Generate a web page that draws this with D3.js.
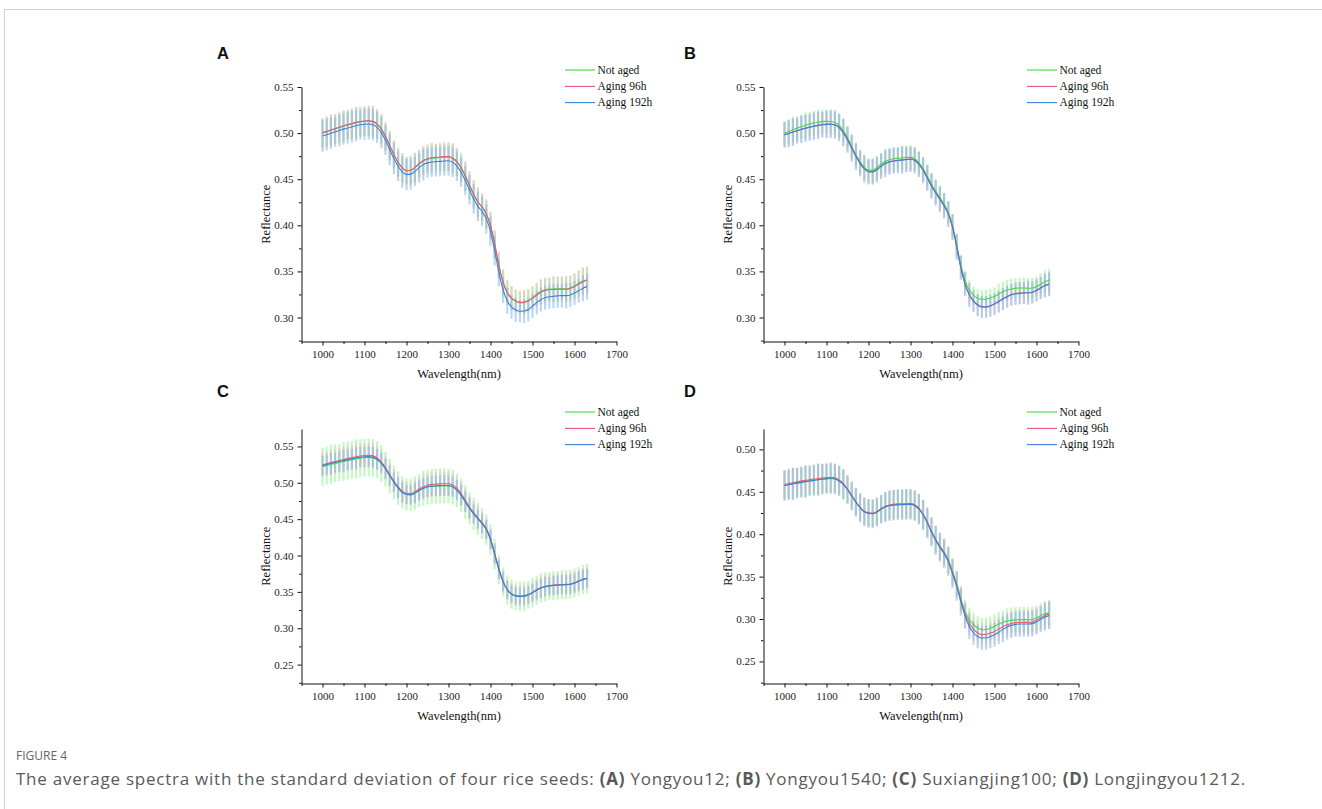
<!DOCTYPE html>
<html>
<head>
<meta charset="utf-8">
<script src="https://cdn.jsdelivr.net/npm/d3@7"></script>
<style>
  body { margin: 0; background: #fff; }
  svg { display: block; }
</style>
</head>
<body>
<svg id="fig" width="1322" height="809"></svg>
<script>
const wavelengths = [1000,1010,1020,1030,1040,1050,1060,1070,1080,1090,1100,1110,1120,1130,1140,1150,1160,1170,1180,1190,
  1200,1210,1220,1230,1240,1250,1260,1270,1280,1290,1300,1310,1320,1330,1340,1350,1360,1370,1380,1390,
  1400,1410,1420,1430,1440,1450,1460,1470,1480,1490,1500,1510,1520,1530,1540,1550,1560,1570,1580,1590,
  1600,1610,1620,1630];

const seriesNames = ["Not aged", "Aging 96h", "Aging 192h"];
const xTicks = [1000, 1100, 1200, 1300, 1400, 1500, 1600, 1700];

// Panel A - Yongyou12
const aNotAged = [.5000,.5015,.5030,.5045,.5060,.5075,.5088,.5100,.5112,.5122,.5128,.5130,.5122,.5095,.5040,.4960,.4860,.4765,.4680,.4620,
  .4592,.4595,.4625,.4665,.4698,.4718,.4728,.4732,.4735,.4740,.4742,.4725,.4685,.4620,.4530,.4430,.4330,.4250,.4195,.4120,
  .3990,.3790,.3560,.3380,.3270,.3210,.3180,.3165,.3168,.3185,.3215,.3250,.3282,.3300,.3308,.3310,.3312,.3312,.3310,.3320,
  .3342,.3370,.3395,.3410];
const aAged96 = [.5003,.5019,.5034,.5049,.5064,.5079,.5092,.5104,.5116,.5126,.5132,.5134,.5127,.5101,.5047,.4967,.4866,.4770,.4684,.4623,
  .4594,.4597,.4628,.4669,.4702,.4722,.4733,.4737,.4740,.4745,.4746,.4730,.4691,.4627,.4537,.4437,.4336,.4255,.4200,.4127,
  .3998,.3798,.3566,.3384,.3272,.3210,.3178,.3162,.3164,.3180,.3209,.3243,.3275,.3293,.3301,.3304,.3306,.3307,.3306,.3315,
  .3336,.3363,.3388,.3404];
const aAged192 = [.4968,.4983,.4998,.5013,.5028,.5043,.5056,.5068,.5080,.5090,.5096,.5098,.5090,.5062,.5005,.4922,.4820,.4724,.4640,.4580,
  .4552,.4555,.4585,.4625,.4658,.4677,.4686,.4690,.4693,.4698,.4700,.4683,.4642,.4576,.4485,.4385,.4285,.4205,.4150,.4070,
  .3935,.3725,.3490,.3300,.3180,.3115,.3082,.3068,.3070,.3088,.3124,.3162,.3196,.3215,.3225,.3230,.3235,.3238,.3238,.3245,
  .3265,.3292,.3318,.3335];
const aNotAgedSd = [.016,.016,.017,.016,.016,.017,.016,.016,.017,.016,.016,.016,.017,.016,.016,.015,.016,.015,.015,.016,
  .015,.015,.016,.015,.015,.015,.016,.015,.015,.015,.015,.016,.015,.015,.016,.015,.015,.016,.015,.015,
  .015,.015,.014,.014,.013,.013,.012,.012,.013,.012,.012,.013,.013,.013,.013,.014,.013,.013,.014,.013,
  .014,.014,.015,.014];
const aAged96Sd = [.016,.017,.017,.016,.017,.017,.016,.017,.017,.016,.016,.017,.017,.016,.016,.016,.016,.015,.016,.016,
  .015,.016,.016,.015,.016,.016,.016,.015,.016,.016,.016,.016,.015,.016,.016,.015,.016,.016,.015,.016,
  .015,.015,.015,.014,.014,.013,.013,.013,.013,.013,.013,.013,.014,.014,.013,.014,.014,.014,.014,.014,
  .014,.015,.015,.015];
const aAged192Sd = [.017,.017,.017,.016,.017,.017,.017,.017,.017,.016,.017,.017,.017,.017,.017,.016,.017,.017,.016,.017,
  .017,.017,.016,.016,.017,.016,.016,.016,.016,.016,.016,.016,.016,.016,.016,.016,.016,.016,.016,.016,
  .016,.016,.015,.014,.014,.013,.013,.012,.013,.013,.013,.013,.013,.013,.013,.013,.013,.013,.014,.013,
  .013,.013,.014,.014];

// Panel B - Yongyou1540
const bNotAged = [.5000,.5018,.5036,.5054,.5070,.5085,.5098,.5110,.5118,.5124,.5127,.5126,.5115,.5085,.5028,.4950,.4855,.4765,.4690,.4630,
  .4598,.4598,.4625,.4665,.4695,.4712,.4722,.4727,.4731,.4735,.4737,.4722,.4680,.4615,.4530,.4445,.4370,.4300,.4230,.4140,
  .4000,.3790,.3570,.3400,.3295,.3240,.3210,.3198,.3200,.3212,.3228,.3255,.3280,.3298,.3310,.3318,.3320,.3320,.3318,.3320,
  .3335,.3360,.3388,.3405];
const bAged96 = [.4983,.4998,.5013,.5028,.5042,.5055,.5066,.5077,.5086,.5093,.5097,.5098,.5090,.5062,.5008,.4932,.4840,.4752,.4675,.4615,
  .4585,.4582,.4605,.4642,.4672,.4690,.4700,.4705,.4710,.4715,.4718,.4705,.4665,.4600,.4515,.4430,.4355,.4285,.4215,.4125,
  .3985,.3770,.3545,.3365,.3250,.3180,.3138,.3118,.3116,.3128,.3148,.3175,.3203,.3228,.3248,.3260,.3265,.3268,.3270,.3275,
  .3295,.3322,.3348,.3362];
const bAged192 = [.4981,.4996,.5011,.5026,.5040,.5053,.5064,.5075,.5084,.5091,.5095,.5096,.5088,.5060,.5005,.4929,.4837,.4749,.4672,.4612,
  .4582,.4580,.4603,.4640,.4670,.4688,.4698,.4703,.4708,.4713,.4716,.4702,.4662,.4597,.4512,.4427,.4352,.4282,.4212,.4121,
  .3980,.3765,.3540,.3360,.3246,.3177,.3135,.3115,.3114,.3126,.3146,.3173,.3201,.3226,.3246,.3258,.3263,.3266,.3268,.3273,
  .3293,.3320,.3346,.3360];
const bNotAgedSd = [.013,.013,.014,.013,.013,.014,.013,.013,.014,.013,.013,.013,.014,.013,.013,.013,.013,.012,.013,.013,
  .012,.013,.013,.012,.013,.013,.013,.012,.013,.013,.013,.013,.012,.013,.013,.012,.013,.013,.012,.012,
  .012,.012,.011,.011,.011,.010,.010,.010,.010,.010,.010,.011,.011,.011,.011,.011,.011,.011,.011,.011,
  .011,.012,.012,.012];
const bAged96Sd = [.013,.014,.014,.013,.014,.014,.013,.014,.014,.013,.014,.014,.014,.013,.014,.013,.013,.013,.013,.013,
  .013,.013,.013,.013,.013,.013,.013,.013,.013,.013,.013,.013,.013,.013,.013,.013,.013,.013,.013,.013,
  .013,.013,.012,.012,.011,.011,.011,.011,.011,.011,.011,.011,.012,.012,.011,.012,.012,.012,.012,.012,
  .012,.012,.012,.012];
const bAged192Sd = [.014,.015,.015,.014,.015,.015,.015,.015,.015,.014,.015,.015,.015,.015,.015,.014,.015,.015,.014,.015,
  .014,.014,.014,.014,.015,.014,.014,.014,.015,.014,.014,.014,.014,.014,.014,.014,.014,.014,.014,.014,
  .014,.014,.013,.013,.013,.012,.012,.012,.012,.012,.012,.012,.012,.012,.012,.012,.012,.012,.013,.012,
  .012,.012,.013,.013];

// Panel C - Suxiangjing100
const cNotAged = [.5222,.5237,.5252,.5266,.5280,.5293,.5306,.5318,.5330,.5340,.5347,.5350,.5343,.5318,.5266,.5190,.5096,.5007,.4928,.4869,
  .4839,.4834,.4857,.4893,.4922,.4941,.4950,.4955,.4957,.4959,.4958,.4941,.4897,.4828,.4738,.4648,.4573,.4503,.4438,.4358,
  .4218,.4018,.3808,.3638,.3528,.3468,.3443,.3436,.3440,.3458,.3488,.3523,.3553,.3570,.3580,.3588,.3593,.3596,.3598,.3603,
  .3620,.3646,.3670,.3683];
const cAged96 = [.5248,.5263,.5278,.5292,.5306,.5319,.5333,.5346,.5358,.5369,.5376,.5378,.5370,.5342,.5288,.5210,.5114,.5024,.4945,.4886,
  .4857,.4853,.4877,.4915,.4946,.4967,.4978,.4984,.4986,.4988,.4988,.4970,.4924,.4852,.4760,.4668,.4590,.4518,.4452,.4370,
  .4227,.4025,.3815,.3645,.3534,.3473,.3448,.3441,.3445,.3463,.3493,.3528,.3558,.3575,.3585,.3593,.3598,.3601,.3603,.3608,
  .3625,.3651,.3675,.3688];
const cAged192 = [.5238,.5252,.5266,.5280,.5293,.5305,.5318,.5330,.5342,.5352,.5358,.5360,.5352,.5325,.5272,.5195,.5100,.5010,.4930,.4870,
  .4840,.4835,.4858,.4895,.4925,.4945,.4955,.4960,.4962,.4964,.4963,.4945,.4900,.4830,.4740,.4650,.4575,.4505,.4440,.4360,
  .4220,.4020,.3810,.3640,.3530,.3470,.3445,.3438,.3442,.3460,.3490,.3525,.3555,.3572,.3582,.3590,.3595,.3598,.3600,.3605,
  .3622,.3648,.3672,.3685];
const cNotAgedSd = [.026,.026,.027,.026,.026,.027,.026,.026,.027,.026,.026,.026,.026,.025,.025,.024,.024,.023,.023,.022,
  .022,.022,.023,.023,.024,.024,.024,.024,.024,.024,.024,.024,.023,.023,.023,.022,.022,.022,.021,.021,
  .021,.021,.020,.020,.020,.020,.019,.020,.020,.019,.020,.020,.020,.020,.019,.020,.020,.020,.020,.020,
  .020,.020,.020,.020];
const cAged96Sd = [.017,.017,.018,.017,.017,.018,.017,.017,.018,.017,.017,.017,.017,.017,.016,.016,.016,.016,.016,.016,
  .016,.016,.016,.016,.017,.017,.017,.016,.017,.017,.017,.016,.016,.016,.016,.016,.016,.016,.015,.015,
  .015,.015,.015,.015,.014,.014,.014,.014,.014,.014,.014,.015,.015,.015,.015,.015,.015,.015,.015,.015,
  .015,.015,.015,.015];
const cAged192Sd = [.014,.014,.015,.014,.014,.015,.014,.014,.015,.014,.014,.014,.014,.014,.014,.014,.014,.013,.014,.014,
  .013,.013,.014,.014,.014,.014,.014,.014,.014,.014,.014,.014,.014,.014,.014,.014,.013,.013,.013,.013,
  .013,.013,.013,.013,.012,.012,.012,.012,.012,.012,.012,.012,.013,.013,.012,.013,.013,.013,.013,.013,
  .013,.013,.013,.013];

// Panel D - Longjingyou1212
const dNotAged = [.4575,.4585,.4595,.4605,.4614,.4622,.4630,.4637,.4644,.4650,.4655,.4660,.4654,.4630,.4590,.4528,.4455,.4380,.4315,.4268,
  .4250,.4245,.4265,.4298,.4325,.4340,.4347,.4350,.4352,.4354,.4355,.4340,.4300,.4232,.4140,.4035,.3940,.3860,.3790,.3700,
  .3560,.3420,.3240,.3085,.2995,.2935,.2895,.2874,.2876,.2890,.2913,.2940,.2962,.2975,.2985,.2990,.2993,.2993,.2992,.2995,
  .3012,.3040,.3062,.3072];
const dAged96 = [.4587,.4597,.4607,.4617,.4626,.4634,.4642,.4649,.4656,.4662,.4667,.4671,.4664,.4638,.4596,.4533,.4459,.4383,.4317,.4270,
  .4251,.4246,.4267,.4301,.4329,.4345,.4353,.4357,.4359,.4361,.4362,.4347,.4306,.4237,.4143,.4036,.3938,.3855,.3783,.3690,
  .3548,.3402,.3220,.3058,.2953,.2880,.2835,.2815,.2820,.2835,.2854,.2882,.2910,.2933,.2948,.2958,.2961,.2962,.2960,.2965,
  .2985,.3015,.3042,.3060];
const dAged192 = [.4572,.4582,.4592,.4602,.4611,.4619,.4627,.4634,.4641,.4647,.4652,.4657,.4651,.4627,.4586,.4524,.4451,.4376,.4311,.4264,
  .4246,.4241,.4261,.4294,.4321,.4336,.4343,.4346,.4348,.4350,.4351,.4336,.4295,.4226,.4132,.4025,.3926,.3843,.3770,.3676,
  .3532,.3385,.3200,.3035,.2913,.2838,.2795,.2776,.2780,.2795,.2815,.2845,.2878,.2906,.2925,.2937,.2941,.2942,.2941,.2946,
  .2966,.2996,.3024,.3040];
const dNotAgedSd = [.017,.017,.018,.017,.017,.018,.017,.017,.018,.017,.017,.017,.017,.017,.017,.016,.016,.016,.016,.016,
  .016,.016,.016,.016,.017,.017,.017,.017,.017,.017,.017,.017,.017,.017,.017,.016,.016,.016,.016,.016,
  .016,.015,.015,.014,.014,.014,.014,.014,.014,.014,.014,.014,.014,.015,.015,.015,.015,.015,.015,.015,
  .015,.015,.015,.015];
const dAged96Sd = [.017,.018,.018,.017,.018,.018,.017,.018,.018,.017,.017,.018,.017,.017,.017,.016,.016,.016,.016,.016,
  .016,.016,.016,.016,.017,.017,.017,.017,.017,.017,.017,.017,.017,.017,.017,.016,.016,.016,.016,.016,
  .016,.016,.015,.015,.014,.014,.014,.014,.014,.014,.014,.014,.015,.015,.015,.015,.015,.015,.015,.015,
  .015,.015,.016,.016];
const dAged192Sd = [.018,.018,.019,.018,.018,.019,.018,.018,.019,.018,.018,.018,.018,.018,.018,.017,.017,.017,.017,.017,
  .017,.017,.017,.017,.018,.018,.018,.018,.018,.018,.018,.018,.018,.018,.018,.017,.017,.017,.017,.017,
  .017,.017,.016,.015,.015,.014,.014,.014,.014,.014,.014,.014,.015,.015,.015,.015,.015,.015,.015,.015,
  .015,.015,.016,.016];

const yTicksAB = [0.30, 0.35, 0.40, 0.45, 0.50, 0.55];
const yTicksC = [0.25, 0.30, 0.35, 0.40, 0.45, 0.50, 0.55];
const yTicksD = [0.25, 0.30, 0.35, 0.40, 0.45, 0.50];

const captionTitle = "FIGURE 4";
const captionParts = [
  ["The average spectra with the standard deviation of four rice seeds: ", false],
  ["(A)", true], [" Yongyou12; ", false],
  ["(B)", true], [" Yongyou1540; ", false],
  ["(C)", true], [" Suxiangjing100; ", false],
  ["(D)", true], [" Longjingyou1212.", false]
];

// --- Styling ---
const lineColors = ["#3fdc3f", "#ee5576", "#3a7fde"];
const barColors  = ["#7cf07c", "#f7a3b6", "#86b6e8"];
const barOpacity = [0.45, 0.35, 0.55];
const serif = "'Liberation Serif','Times New Roman',serif";

const panels = [
  {label: "A", lx: 217, ly: 59,  x0: 301.5, top: 87,  bottom: 341.5, yDomain: [0.274, 0.55], yTicks: yTicksAB,
   means: [aNotAged, aAged96, aAged192], sds: [aNotAgedSd, aAged96Sd, aAged192Sd]},
  {label: "B", lx: 684, ly: 59,  x0: 763.5, top: 87,  bottom: 341.5, yDomain: [0.274, 0.55], yTicks: yTicksAB,
   means: [bNotAged, bAged96, bAged192], sds: [bNotAgedSd, bAged96Sd, bAged192Sd]},
  {label: "C", lx: 217, ly: 397, x0: 301.5, top: 429, bottom: 683.5, yDomain: [0.224, 0.574], yTicks: yTicksC,
   means: [cNotAged, cAged96, cAged192], sds: [cNotAgedSd, cAged96Sd, cAged192Sd]},
  {label: "D", lx: 684, ly: 397, x0: 763.5, top: 429, bottom: 683.5, yDomain: [0.224, 0.524], yTicks: yTicksD,
   means: [dNotAged, dAged96, dAged192], sds: [dNotAgedSd, dAged96Sd, dAged192Sd]}
];
const plotWidth = 315;

const svg = d3.select("#fig");

// page frame lines
svg.append("line").attr("x1", 4).attr("x2", 1322).attr("y1", 9.5).attr("y2", 9.5)
  .attr("stroke", "#cfcfcf").attr("stroke-width", 1);
svg.append("line").attr("x1", 4.5).attr("x2", 4.5).attr("y1", 9).attr("y2", 809)
  .attr("stroke", "#cfcfcf").attr("stroke-width", 1);

panels.forEach(p => {
  const x = d3.scaleLinear().domain([950, 1700]).range([p.x0, p.x0 + plotWidth]);
  const y = d3.scaleLinear().domain(p.yDomain).range([p.bottom, p.top]);
  const g = svg.append("g");

  // panel letter
  g.append("text").attr("x", p.lx).attr("y", p.ly)
    .attr("font-family", "'Liberation Sans',Arial,sans-serif").attr("font-weight", "bold")
    .attr("font-size", "16.5px").attr("fill", "#111").text(p.label);

  // error bars (one vertical line per wavelength)
  p.means.forEach((m, si) => {
    g.append("g").selectAll("line")
      .data(wavelengths.map((w, i) => ({w: w, m: m[i], s: p.sds[si][i]})))
      .enter().append("line")
      .attr("x1", d => x(d.w)).attr("x2", d => x(d.w))
      .attr("y1", d => y(d.m - d.s)).attr("y2", d => y(d.m + d.s))
      .attr("stroke", barColors[si]).attr("stroke-opacity", barOpacity[si])
      .attr("stroke-width", 2.2);
  });

  // mean spectra
  const line = d3.line().x((d, i) => x(wavelengths[i])).y(d => y(d)).curve(d3.curveMonotoneX);
  p.means.forEach((m, si) => {
    g.append("path").datum(m).attr("d", line)
      .attr("fill", "none").attr("stroke", lineColors[si]).attr("stroke-width", 1.1);
  });

  // axes
  const xAxis = g.append("g").attr("transform", `translate(0,${p.bottom})`)
    .call(d3.axisBottom(x).tickValues(xTicks).tickSize(4).tickSizeOuter(0).tickPadding(5).tickFormat(d3.format("d")));
  g.append("g").attr("transform", `translate(0,${p.bottom})`)
    .call(d3.axisBottom(x).tickValues(d3.range(950, 1700, 100)).tickSize(2.5).tickSizeOuter(0).tickFormat(""))
    .select(".domain").remove();
  const yAxis = g.append("g").attr("transform", `translate(${p.x0},0)`)
    .call(d3.axisLeft(y).tickValues(p.yTicks).tickSize(4).tickSizeOuter(0).tickPadding(4).tickFormat(d3.format(".2f")));
  const minorY = d3.range(0.225, 0.6, 0.05).filter(v => v >= p.yDomain[0] && v <= p.yDomain[1]);
  g.append("g").attr("transform", `translate(${p.x0},0)`)
    .call(d3.axisLeft(y).tickValues(minorY).tickSize(2.5).tickSizeOuter(0).tickFormat(""))
    .select(".domain").remove();

  [xAxis, yAxis].forEach(ax => {
    ax.selectAll("text").attr("font-family", serif).attr("font-size", "11px").attr("fill", "#222");
    ax.selectAll("line, path").attr("stroke", "#111");
  });
  g.selectAll(".tick line").attr("stroke", "#111");

  // axis titles
  g.append("text").attr("x", p.x0 + plotWidth / 2).attr("y", p.bottom + 36)
    .attr("text-anchor", "middle").attr("font-family", serif).attr("font-size", "12.5px")
    .attr("fill", "#111").text("Wavelength(nm)");
  g.append("text")
    .attr("transform", `translate(${p.x0 - 31.5},${(p.top + p.bottom) / 2}) rotate(-90)`)
    .attr("text-anchor", "middle").attr("font-family", serif).attr("font-size", "12.5px")
    .attr("fill", "#111").text("Reflectance");

  // legend
  const leg = g.append("g").attr("transform", `translate(${p.x0 + 263.5},${p.top})`);
  const rowY = [-17, -0.6, 15.6];
  seriesNames.forEach((name, si) => {
    leg.append("line").attr("x1", 0).attr("x2", 30).attr("y1", rowY[si]).attr("y2", rowY[si])
      .attr("stroke", lineColors[si]).attr("stroke-width", 1.1);
    leg.append("text").attr("x", 32.5).attr("y", rowY[si] + 3.8)
      .attr("font-family", serif).attr("font-size", "11.5px").attr("fill", "#111").text(name);
  });
});

// caption
svg.append("text").attr("x", 16).attr("y", 760)
  .attr("font-family", "'Open Sans',sans-serif").attr("font-size", "12px")
  .attr("fill", "#666").text(captionTitle);
const cap = svg.append("text").attr("x", 16).attr("y", 785)
  .attr("font-family", "'Open Sans',sans-serif").attr("font-size", "17px").attr("fill", "#5a5a5a");
captionParts.forEach(([t, bold]) => {
  cap.append("tspan").attr("font-weight", bold ? "bold" : "normal").text(t);
});
// stretch the caption to the width it has in the figure
const capText = captionParts.map(d => d[0]).join("");
const natural = cap.node().getComputedTextLength();
cap.attr("letter-spacing", ((1230 - natural) / capText.length).toFixed(3) + "px");
</script>
</body>
</html>
